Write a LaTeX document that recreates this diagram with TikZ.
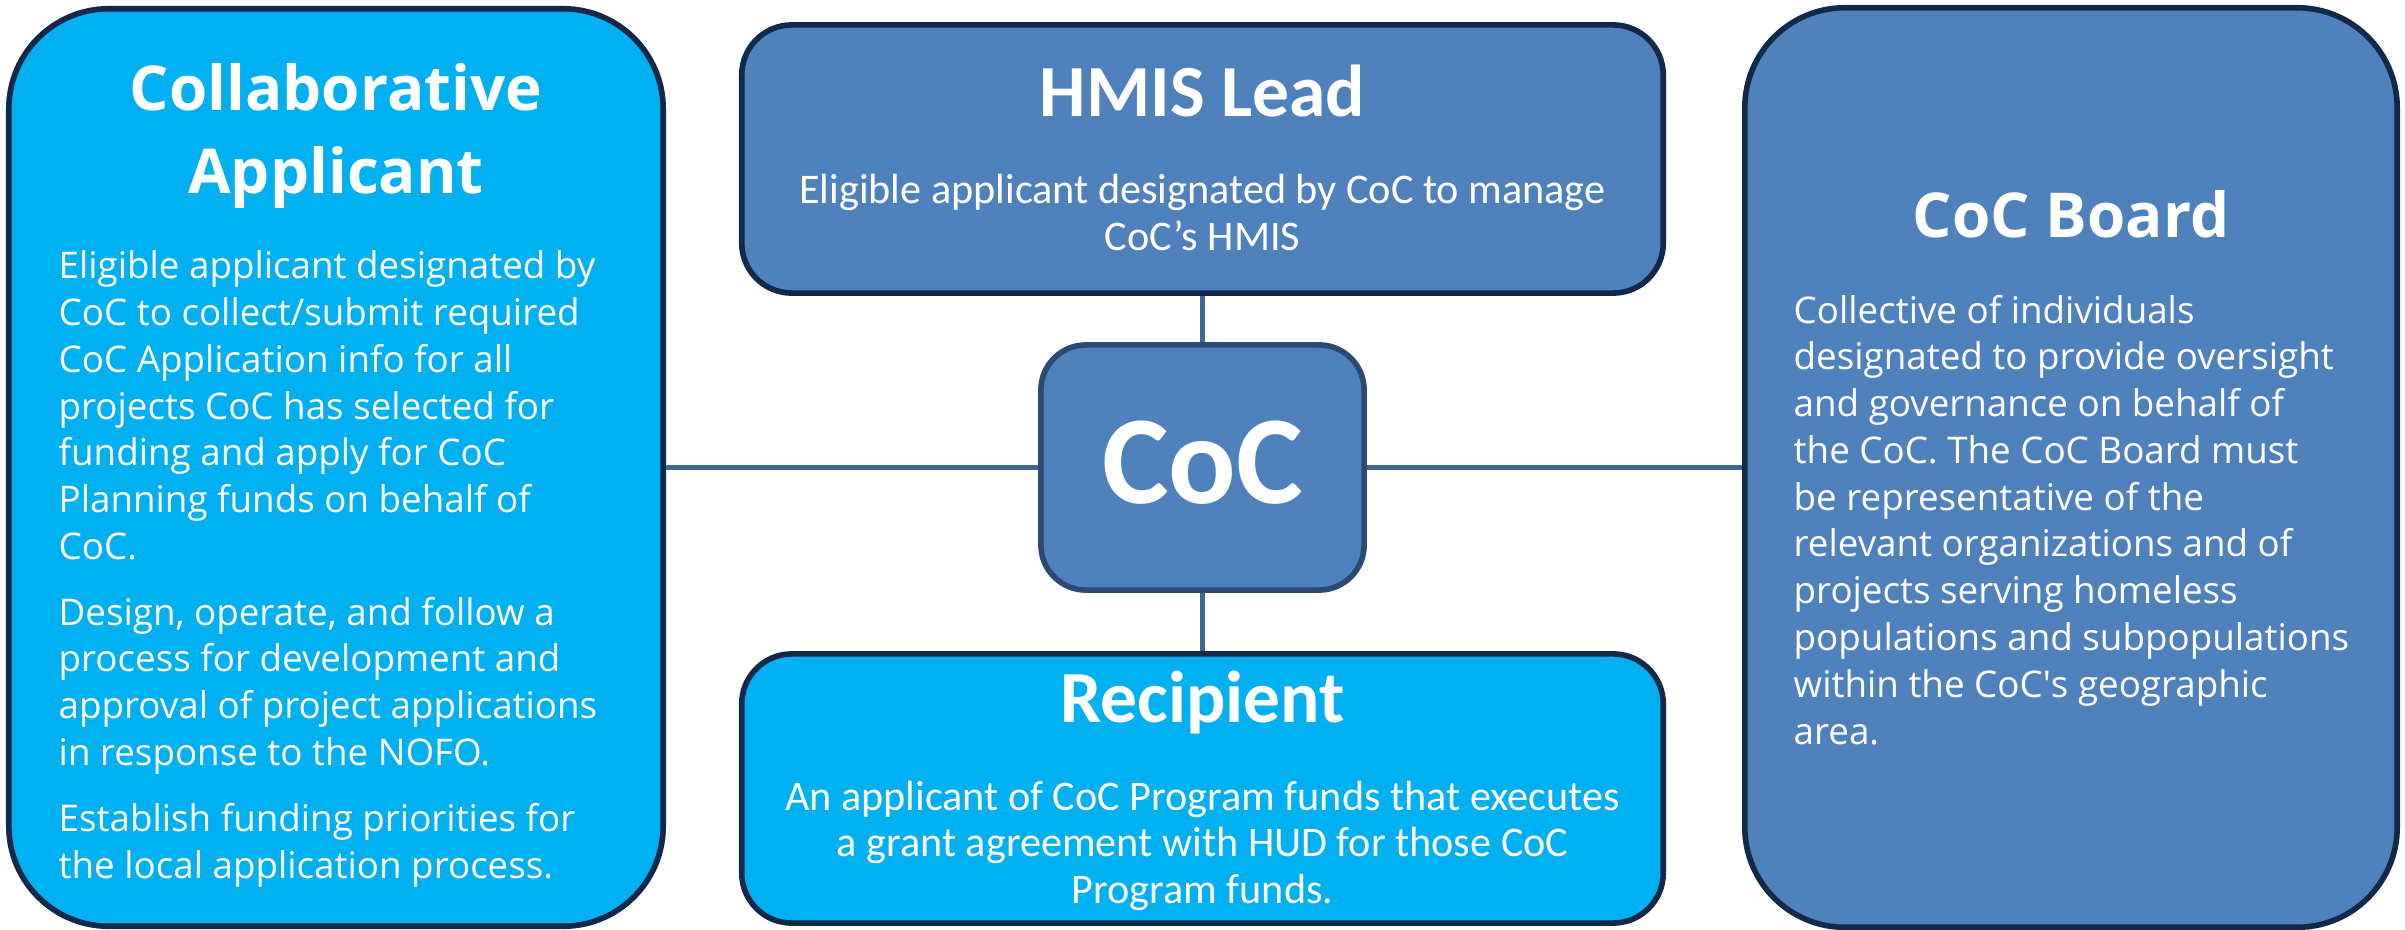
\documentclass[tikz,border=0pt]{standalone}
\usepackage{fontspec}
\setmainfont{Open Sans}
\newfontfamily\calibri{Carlito}
\definecolor{cyanbox}{HTML}{00B0F0}
\definecolor{steelbox}{HTML}{4F81BD}
\definecolor{boxline}{HTML}{12294A}
\definecolor{cocline}{HTML}{2C4A74}
\definecolor{linkblue}{HTML}{3F6897}

\begin{document}
\begin{tikzpicture}[x=0.01cm,y=-0.01cm]
    \tikzstyle{box}=[draw=boxline,line width=1.6pt,inner sep=0pt,outer sep=0pt]
    \tikzstyle{bigbox}=[box,rounded corners=1cm]
    \tikzstyle{midbox}=[box,rounded corners=0.5cm]
    \tikzstyle{link}=[draw=linkblue,line width=1.4pt,shorten <=0.8pt,shorten >=0.8pt]
    \tikzstyle{bigtitle}=[text=white,inner sep=0pt,anchor=base,font=\bfseries\fontsize{17.6}{23.6}\selectfont]
    \tikzstyle{bigtext}=[text=white,inner sep=0pt,anchor=base west,align=left,font=\fontsize{10.45}{13.3}\selectfont]
    \tikzstyle{midtitle}=[text=white,inner sep=0pt,anchor=base,font=\calibri\bfseries\fontsize{20.9}{25}\selectfont]
    \tikzstyle{midtext}=[text=white,inner sep=0pt,anchor=base,align=center,font=\calibri\fontsize{12}{13.1}\selectfont]

    \useasboundingbox (0,0) rectangle (2405,930);

    % boxes
    \node[bigbox,fill=cyanbox,minimum width=6.54cm,minimum height=9.17cm] at (336,467.5) (collab) {};
    \node[midbox,fill=steelbox,minimum width=9.21cm,minimum height=2.68cm] at (1202.5,159) (lead) {};
    \node[box,fill=steelbox,draw=cocline,rounded corners=0.45cm,minimum width=3.23cm,minimum height=2.45cm] at (1202.5,467.5) (coc) {};
    \node[midbox,fill=cyanbox,minimum width=9.21cm,minimum height=2.69cm] at (1202.5,788.5) (recip) {};
    \node[bigbox,fill=steelbox,minimum width=6.52cm,minimum height=9.19cm] at (2071,467.5) (board) {};

    % texts (multi-line ones sit on the baseline of their last line)
    \node[bigtitle] at (336,110) (collabT1) {Collaborative};
    \node[bigtitle] at (336,193) (collabT2) {Applicant};
    \node[bigtext] at (58,878) (collabtxt) {Eligible applicant designated by\\
        CoC to collect/submit required\\
        CoC Application info for all\\
        projects CoC has selected for\\
        funding and apply for CoC\\
        Planning funds on behalf of\\
        CoC.\\[5.4pt]
        Design, operate, and follow a\\
        process for development and\\
        approval of project applications\\
        in response to the NOFO.\\[5.4pt]
        Establish funding priorities for\\
        the local application process.};

    \node[midtitle] at (1202.5,116) (leadT) {HMIS Lead};
    \node[midtext] at (1202.5,250) (leadtxt) {Eligible applicant designated by CoC to manage\\CoC’s HMIS};

    \node[text=white,inner sep=0pt,anchor=base,font=\calibri\bfseries\fontsize{35.8}{40}\selectfont] at (1202.5,503) (cocT) {CoC};

    \node[midtitle] at (1202.5,722) (recipT) {Recipient};
    \node[midtext] at (1202.5,903) (reciptxt) {An applicant of CoC Program funds that executes\\
        a grant agreement with HUD for those CoC\\
        Program funds.};

    \node[bigtitle] at (2071,237) (boardT) {CoC Board};
    \node[bigtext] at (1793,744) (boardtxt) {Collective of individuals\\
        designated to provide oversight\\
        and governance on behalf of\\
        the CoC. The CoC Board must\\
        be representative of the\\
        relevant organizations and of\\
        projects serving homeless\\
        populations and subpopulations\\
        within the CoC\textquotesingle s geographic\\
        area.};

    % links
    \draw[link] (collab) -- (coc);
    \draw[link] (coc) -- (board);
    \draw[link] (lead) -- (coc);
    \draw[link] (coc) -- (recip);
\end{tikzpicture}
\end{document}
